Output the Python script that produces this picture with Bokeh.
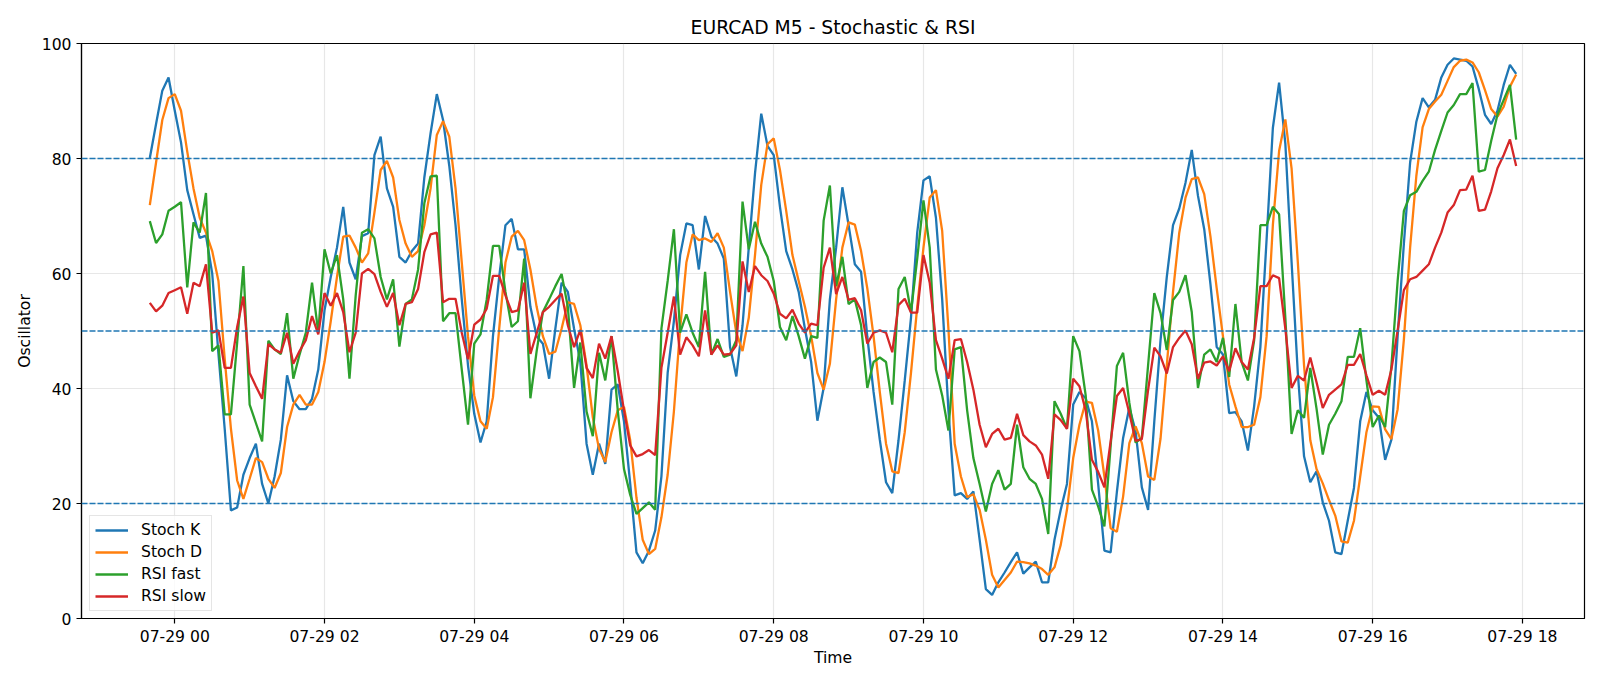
import pandas as pd
from bokeh.plotting import figure
from bokeh.models import Range1d, FixedTicker, DatetimeTickFormatter, Span, Legend, LegendItem
from bokeh.embed import file_html
from bokeh.resources import INLINE

# ---------------- data ----------------
start_time = "2024-07-28 23:40"
bar_minutes = 5

stoch_k = [80.1, 86.0, 91.8, 94.1, 88.3, 82.8, 74.5, 70.3, 66.2, 66.6,
           60.0, 46.0, 33.0, 18.8, 19.3, 25.0, 27.9, 30.4, 23.4, 20.0,
           24.7, 31.1, 42.3, 37.8, 36.4, 36.4, 38.2, 43.3, 53.6, 59.4,
           64.5, 71.6, 61.9, 59.0, 66.5, 67.0, 80.6, 83.8, 74.8, 71.6,
           62.9, 61.9, 63.9, 65.2, 76.7, 84.4, 91.2, 86.7, 78.7, 68.4,
           55.5, 44.0, 35.6, 30.6, 34.3, 49.1, 59.4, 68.4, 69.5, 64.2,
           64.2, 54.2, 49.1, 47.8, 41.7, 50.4, 58.4, 56.8, 50.4, 44.6,
           30.4, 25.0, 30.4, 26.9, 39.8, 40.7, 34.3, 23.4, 11.5, 9.6,
           11.8, 15.3, 24.7, 42.7, 51.7, 63.2, 68.7, 68.4, 60.7, 70.0,
           66.4, 65.2, 62.6, 47.2, 42.1, 51.0, 64.5, 77.4, 87.8, 82.2,
           80.6, 71.6, 63.9, 60.7, 56.8, 50.4, 44.6, 34.4, 40.1, 55.5,
           64.5, 75.0, 68.4, 61.6, 60.3, 49.0, 39.4, 31.1, 23.7, 21.8,
           31.0, 41.4, 52.3, 67.1, 76.2, 76.9, 69.7, 55.5, 36.2, 21.4,
           21.8, 20.8, 22.1, 13.7, 5.1, 4.1, 6.3, 8.0, 9.8, 11.5,
           7.8, 8.9, 9.9, 6.3, 6.3, 13.7, 18.9, 23.4, 37.2, 39.4,
           38.3, 34.3, 23.4, 11.8, 11.5, 22.0, 31.4, 36.7, 32.6, 22.8,
           18.9, 34.3, 48.4, 59.4, 68.4, 71.3, 75.8, 81.5, 73.5, 67.7,
           58.1, 47.2, 45.9, 35.7, 35.9, 34.3, 29.2, 36.9, 47.2, 66.0,
           85.3, 93.2, 82.6, 62.0, 42.7, 28.2, 23.7, 25.6, 20.2, 17.0,
           11.5, 11.2, 17.0, 22.7, 34.3, 39.4, 36.2, 34.9, 27.6, 31.1,
           49.1, 65.2, 79.3, 86.4, 90.5, 88.9, 90.2, 94.1, 96.3, 97.4,
           97.2, 97.0, 96.0, 92.1, 87.6, 86.0, 88.3, 92.8, 96.3, 94.7]

stoch_d = [71.9, 79.3, 86.7, 90.5, 91.2, 88.3, 81.2, 74.8, 69.7, 67.1,
           63.9, 58.7, 45.2, 33.0, 24.0, 20.8, 24.3, 27.9, 27.2, 24.3,
           22.7, 25.3, 33.3, 37.2, 38.9, 37.2, 37.2, 39.4, 44.6, 51.7,
           59.4, 66.4, 66.6, 64.5, 61.9, 63.5, 70.6, 78.0, 79.6, 76.7,
           69.3, 65.2, 62.9, 63.9, 68.4, 74.8, 84.1, 86.5, 83.8, 74.8,
           61.9, 49.1, 38.8, 34.3, 33.0, 38.5, 50.4, 61.9, 66.4, 67.4,
           65.8, 60.7, 54.2, 49.1, 46.0, 46.4, 50.4, 55.0, 54.7, 51.0,
           44.0, 35.0, 29.5, 27.2, 32.4, 36.2, 36.8, 31.0, 21.0, 13.7,
           11.2, 12.1, 17.6, 25.0, 36.0, 50.4, 61.9, 66.8, 65.8, 66.1,
           65.5, 67.0, 64.5, 56.8, 49.7, 46.5, 52.3, 63.2, 75.4, 82.5,
           83.5, 78.0, 70.9, 63.2, 58.7, 54.2, 49.1, 42.7, 39.8, 44.3,
           55.5, 64.5, 68.9, 68.5, 63.9, 57.4, 49.1, 39.4, 30.4, 25.6,
           25.3, 32.4, 42.7, 54.2, 64.5, 73.2, 74.5, 67.4, 50.4, 30.4,
           24.7, 21.1, 21.6, 18.9, 13.7, 7.6, 5.4, 6.7, 8.0, 9.9,
           9.8, 9.6, 9.2, 8.6, 7.6, 8.9, 12.8, 18.9, 27.9, 33.7,
           37.7, 37.5, 32.7, 24.7, 15.7, 15.1, 21.2, 30.5, 33.4, 30.5,
           24.7, 24.1, 31.3, 44.0, 56.8, 67.1, 73.2, 76.4, 76.7, 73.8,
           66.4, 57.4, 49.1, 40.7, 36.9, 33.3, 33.3, 33.7, 38.5, 49.1,
           68.4, 81.3, 86.8, 78.3, 62.0, 44.0, 31.0, 26.0, 23.5, 20.6,
           17.9, 13.4, 13.2, 17.0, 24.7, 32.4, 36.9, 36.8, 32.9, 31.2,
           36.4, 48.5, 64.5, 77.0, 85.4, 88.6, 89.9, 91.1, 93.5, 95.9,
           97.0, 97.2, 96.7, 95.0, 91.9, 88.6, 87.3, 89.0, 92.5, 94.6]

rsi_fast = [69.1, 65.3, 66.8, 70.9, 71.6, 72.4, 57.6, 68.9, 67.1, 74.0,
            46.5, 47.5, 35.5, 35.5, 48.0, 61.3, 37.2, 34.0, 30.8, 48.3,
            46.8, 46.0, 53.1, 41.7, 45.9, 49.7, 58.4, 49.7, 64.2, 60.0,
            63.2, 55.5, 41.7, 56.2, 67.1, 67.7, 66.1, 59.4, 55.5, 59.0,
            47.3, 54.7, 55.5, 60.7, 72.2, 76.9, 77.0, 51.7, 53.1, 53.1,
            43.3, 33.7, 47.8, 49.4, 55.5, 64.8, 64.8, 56.8, 50.7, 51.7,
            62.6, 38.3, 46.5, 53.3, 55.5, 57.8, 59.9, 54.2, 40.1, 48.0,
            36.0, 31.7, 46.2, 41.4, 49.1, 36.2, 26.0, 21.5, 18.2, 19.2,
            20.2, 18.9, 50.4, 58.7, 67.7, 49.7, 52.9, 49.7, 47.2, 60.3,
            45.9, 48.6, 45.5, 45.9, 48.4, 72.5, 64.2, 69.0, 65.2, 62.9,
            58.7, 50.7, 48.4, 52.6, 49.1, 45.2, 49.1, 48.8, 69.2, 75.3,
            57.8, 62.9, 54.7, 55.5, 51.0, 40.1, 44.6, 45.4, 44.6, 37.2,
            57.3, 59.4, 53.3, 62.6, 72.7, 64.5, 43.3, 38.8, 32.7, 46.8,
            47.2, 36.2, 27.9, 23.4, 18.6, 23.4, 25.8, 22.4, 23.4, 33.7,
            26.3, 24.3, 23.4, 20.8, 14.7, 37.8, 35.6, 33.0, 49.1, 46.5,
            38.8, 22.4, 19.5, 16.0, 30.0, 43.9, 46.2, 37.5, 30.6, 31.4,
            44.0, 56.6, 53.1, 46.7, 55.4, 56.8, 59.7, 53.3, 40.1, 45.9,
            46.8, 44.6, 48.8, 42.0, 54.7, 44.6, 41.4, 48.4, 68.4, 68.4,
            71.6, 70.3, 52.3, 32.1, 36.2, 34.9, 43.6, 36.5, 28.5, 33.7,
            35.6, 37.8, 45.5, 45.5, 50.5, 41.4, 33.3, 35.3, 33.3, 43.9,
            58.7, 70.9, 73.6, 74.2, 76.1, 77.7, 81.5, 84.8, 88.0, 89.3,
            91.2, 91.2, 93.1, 77.7, 78.0, 83.1, 87.6, 90.2, 92.8, 83.3]

rsi_slow = [54.9, 53.4, 54.4, 56.6, 57.1, 57.6, 53.0, 58.4, 57.8, 61.6,
            49.7, 50.1, 43.6, 43.6, 50.7, 56.0, 42.7, 40.4, 38.2, 47.7,
            46.8, 46.2, 49.7, 44.3, 46.5, 48.4, 52.6, 49.4, 56.6, 54.4,
            56.6, 53.3, 46.3, 49.7, 60.0, 60.8, 59.9, 56.8, 54.2, 56.6,
            51.0, 54.7, 55.0, 57.3, 63.7, 66.8, 67.1, 55.0, 55.6, 55.6,
            49.7, 45.1, 51.1, 52.0, 53.9, 59.6, 59.6, 56.2, 53.3, 53.6,
            58.4, 46.0, 49.6, 53.3, 54.2, 55.4, 56.5, 51.0, 47.2, 50.2,
            43.6, 41.8, 47.8, 45.2, 49.1, 43.0, 36.2, 30.1, 28.2, 28.6,
            29.3, 28.4, 43.6, 49.7, 56.0, 45.9, 48.9, 47.5, 45.6, 53.6,
            45.9, 47.5, 45.9, 46.0, 47.5, 62.1, 56.8, 61.3, 59.7, 58.7,
            56.5, 53.0, 52.2, 53.7, 51.3, 49.7, 51.3, 51.0, 61.0, 64.5,
            56.4, 59.4, 55.4, 55.7, 53.6, 47.8, 49.7, 50.1, 49.7, 46.3,
            54.5, 55.6, 53.2, 53.2, 63.2, 58.4, 48.4, 45.2, 41.7, 48.4,
            48.6, 44.6, 39.8, 33.7, 29.8, 32.1, 33.0, 31.1, 31.4, 35.6,
            31.9, 30.8, 30.1, 28.5, 24.3, 35.5, 34.5, 33.0, 41.7, 40.4,
            36.2, 27.6, 25.5, 22.8, 30.8, 38.7, 40.1, 35.7, 30.9, 31.2,
            39.7, 47.1, 45.6, 42.6, 47.2, 48.8, 50.1, 47.7, 41.7, 44.5,
            44.7, 44.0, 45.6, 43.0, 47.0, 44.6, 43.3, 48.8, 57.8, 57.8,
            59.7, 59.2, 50.4, 40.1, 42.2, 41.4, 45.4, 41.1, 36.6, 38.9,
            39.8, 40.7, 44.1, 44.1, 46.0, 42.3, 38.9, 39.6, 38.9, 43.3,
            50.1, 57.1, 59.0, 59.4, 60.5, 61.6, 64.5, 67.1, 70.6, 71.9,
            74.5, 74.6, 77.0, 70.9, 71.1, 74.3, 78.3, 80.6, 83.3, 78.7]

series_names = ["Stoch K", "Stoch D", "RSI fast", "RSI slow"]
series_colors = ["#1f77b4", "#ff7f0e", "#2ca02c", "#d62728"]
level_lines = [20, 50, 80]
y_ticks = [0, 20, 40, 60, 80, 100]
x_tick_times = ["2024-07-29 00:00", "2024-07-29 02:00", "2024-07-29 04:00",
                "2024-07-29 06:00", "2024-07-29 08:00", "2024-07-29 10:00",
                "2024-07-29 12:00", "2024-07-29 14:00", "2024-07-29 16:00",
                "2024-07-29 18:00"]

# ---------------- figure ----------------
times = pd.date_range(start_time, periods=len(stoch_k), freq=f"{bar_minutes}min")
pad = (times[-1] - times[0]) * 0.05

FONT = "DejaVu Sans"
FS = "15.6px"

p = figure(width=1600, height=686, x_axis_type="datetime",
           x_range=Range1d(times[0] - pad, times[-1] + pad),
           y_range=Range1d(0, 100),
           output_backend="svg", toolbar_location=None,
           min_border_left=81, min_border_right=16,
           min_border_top=43, min_border_bottom=68,
           background_fill_color="white", border_fill_color="white")

p.title.text = "EURCAD M5 - Stochastic & RSI"
p.title.align = "center"
p.title.text_font = FONT
p.title.text_font_size = "18.75px"
p.title.text_font_style = "normal"
p.title.text_color = "black"
p.title.standoff = 11

p.outline_line_color = "black"
p.outline_line_width = 1.2
p.outline_line_alpha = 1

# grid
for g in (p.xgrid, p.ygrid):
    g.grid_line_color = "#b0b0b0"
    g.grid_line_alpha = 0.3
    g.grid_line_width = 1.2

# axes
tick_ms = [pd.Timestamp(t).value / 1e6 for t in x_tick_times]
p.xaxis.ticker = FixedTicker(ticks=tick_ms)
fmt = "%m-%d %H"
p.xaxis.formatter = DatetimeTickFormatter(milliseconds=fmt, seconds=fmt, minsec=fmt,
                                          minutes=fmt, hourmin=fmt, hours=fmt,
                                          days=fmt, months=fmt, years=fmt)
p.yaxis.ticker = FixedTicker(ticks=y_ticks)
p.xaxis.axis_label = "Time"
p.yaxis.axis_label = "Oscillator"

for ax in (p.xaxis[0], p.yaxis[0]):
    ax.axis_line_color = "black"
    ax.axis_line_width = 1.2
    ax.major_tick_line_color = "black"
    ax.major_tick_line_width = 1.2
    ax.major_tick_out = 5
    ax.major_tick_in = 0
    ax.minor_tick_line_color = None
    ax.major_label_text_font = FONT
    ax.major_label_text_font_size = FS
    ax.major_label_text_color = "black"
    ax.axis_label_text_font = FONT
    ax.axis_label_text_font_size = FS
    ax.axis_label_text_font_style = "normal"
    ax.axis_label_text_color = "black"

p.xaxis.major_label_standoff = 4
p.xaxis.axis_label_standoff = 0
p.yaxis.major_label_standoff = 5
p.yaxis.axis_label_standoff = 5

# series
renderers = []
for name, vals, col in zip(series_names, [stoch_k, stoch_d, rsi_fast, rsi_slow], series_colors):
    r = p.line(x=list(times), y=vals, line_color=col, line_width=2.3)
    renderers.append((name, r))

# reference levels
for lv in level_lines:
    p.add_layout(Span(location=lv, dimension="width", line_color="#1f77b4",
                      line_width=1.5, line_dash="6 2"))

legend = Legend(items=[LegendItem(label=n, renderers=[r]) for n, r in renderers],
                location=(8, 7), margin=0, padding=5, spacing=4,
                glyph_width=33, glyph_height=18, label_height=18,
                label_standoff=13,
                label_text_font=FONT, label_text_font_size=FS,
                label_text_color="black",
                border_line_color="#cccccc", border_line_width=1,
                background_fill_color="white", background_fill_alpha=0.8)
p.add_layout(legend)

open("out.html", "w").write(file_html(p, INLINE))
